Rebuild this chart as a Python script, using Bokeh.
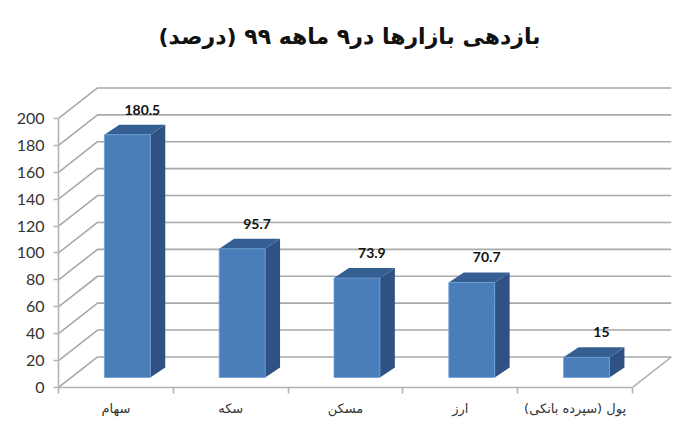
from bokeh.plotting import figure
from bokeh.models import FixedTicker, Range1d
from bokeh.embed import file_html
from bokeh.resources import INLINE
from bokeh.core.properties import value

title_text = "\u200fبازدهی بازارها در۹ ماهه ۹۹ (درصد)\u200f"
categories = ["سهام", "سکه", "مسکن", "ارز", "\u200fپول (سپرده بانکی)\u200f"]
values = [180.5, 95.7, 73.9, 70.7, 15]
value_labels = ["180.5", "95.7", "73.9", "70.7", "15"]
y_ticks = [0, 20, 40, 60, 80, 100, 120, 140, 160, 180, 200]

# 3D projection (in data units)
WALL_DX, WALL_DY = 0.34, 22.7
BAR_DX, BAR_DY = 0.13, 7.43
BAR_LEFT, BAR_WIDTH = 0.40, 0.40
N = len(categories)

FRONT, SIDE, TOP = "#4a7ebb", "#2f5183", "#355f92"
GRID = "#a9a9a9"
AXIS = "#b4b4b4"

p = figure(frame_width=613, frame_height=318, output_backend="svg", toolbar_location=None,
           x_range=Range1d(0, N + WALL_DX), y_range=Range1d(0, 236.4),
           min_border_left=58, min_border_right=21, min_border_top=10, min_border_bottom=42,
           background_fill_color="white", border_fill_color="white", outline_line_color=None,
           title=title_text)
p.title.text_font = "DejaVu Sans"
p.title.text_font_size = "22px"
p.title.text_font_style = "bold"
p.title.text_color = "#111111"
p.title.align = "left"
p.title.offset = 100
p.title.standoff = 42
p.grid.visible = False

# wall and floor lines
xs, ys = [], []
for t in y_ticks:
    xs.append([0, WALL_DX, N + WALL_DX])
    ys.append([t, t + WALL_DY, t + WALL_DY])
p.multi_line(xs, ys, line_color=GRID, line_width=1.6)
p.line([N, N + WALL_DX], [0, WALL_DY], line_color=AXIS, line_width=1.6)

# bars
for i, v in enumerate(values):
    l = i + BAR_LEFT
    r = l + BAR_WIDTH
    b = BAR_DY
    t = v + BAR_DY
    p.patch([r, r + BAR_DX, r + BAR_DX, r], [b, b + BAR_DY, t + BAR_DY, t], fill_color=SIDE, line_color=None)
    p.patch([l, r, r + BAR_DX, l + BAR_DX], [t, t, t + BAR_DY, t + BAR_DY], fill_color=TOP, line_color=None)
    p.quad(left=l, right=r, bottom=b, top=t, fill_color=FRONT, line_color="#6f9fd6", line_width=0.8)

p.text(x=[i + BAR_LEFT + BAR_WIDTH / 2 + BAR_DX for i in range(N)],
       y=[v + BAR_DY for v in values], text=value_labels,
       x_offset=0, y_offset=-25,
       text_font=value("Lato"), text_font_style="bold", text_font_size="14px",
       text_color="#111111", text_align="center", text_baseline="middle")

# axes
ya = p.yaxis[0]
ya.ticker = FixedTicker(ticks=y_ticks)
ya.bounds = (0, 200)
ya.axis_line_color = AXIS
ya.axis_line_width = 1.6
ya.major_tick_line_color = AXIS
ya.major_tick_line_width = 1.6
ya.major_tick_in = 0
ya.major_tick_out = 5
ya.minor_tick_line_color = None
ya.major_label_text_font = "Lato"
ya.major_label_text_font_size = "16px"
ya.major_label_text_color = "#333333"
ya.major_label_standoff = 9

xa = p.xaxis[0]
centers = [i + 0.5 for i in range(N)]
xa.ticker = FixedTicker(ticks=centers, minor_ticks=list(range(N + 1)))
xa.major_label_overrides = {c: s for c, s in zip(centers, categories)}
xa.bounds = (0, N)
xa.axis_line_color = AXIS
xa.axis_line_width = 1.6
xa.major_tick_line_color = None
xa.major_tick_in = 0
xa.major_tick_out = 0
xa.minor_tick_line_color = AXIS
xa.minor_tick_line_width = 1.6
xa.minor_tick_in = 0
xa.minor_tick_out = 6
xa.major_label_text_font = "DejaVu Sans"
xa.major_label_text_font_size = "13px"
xa.major_label_text_color = "#333333"
xa.major_label_standoff = 7

open("out.html", "w").write(file_html(p, INLINE))
